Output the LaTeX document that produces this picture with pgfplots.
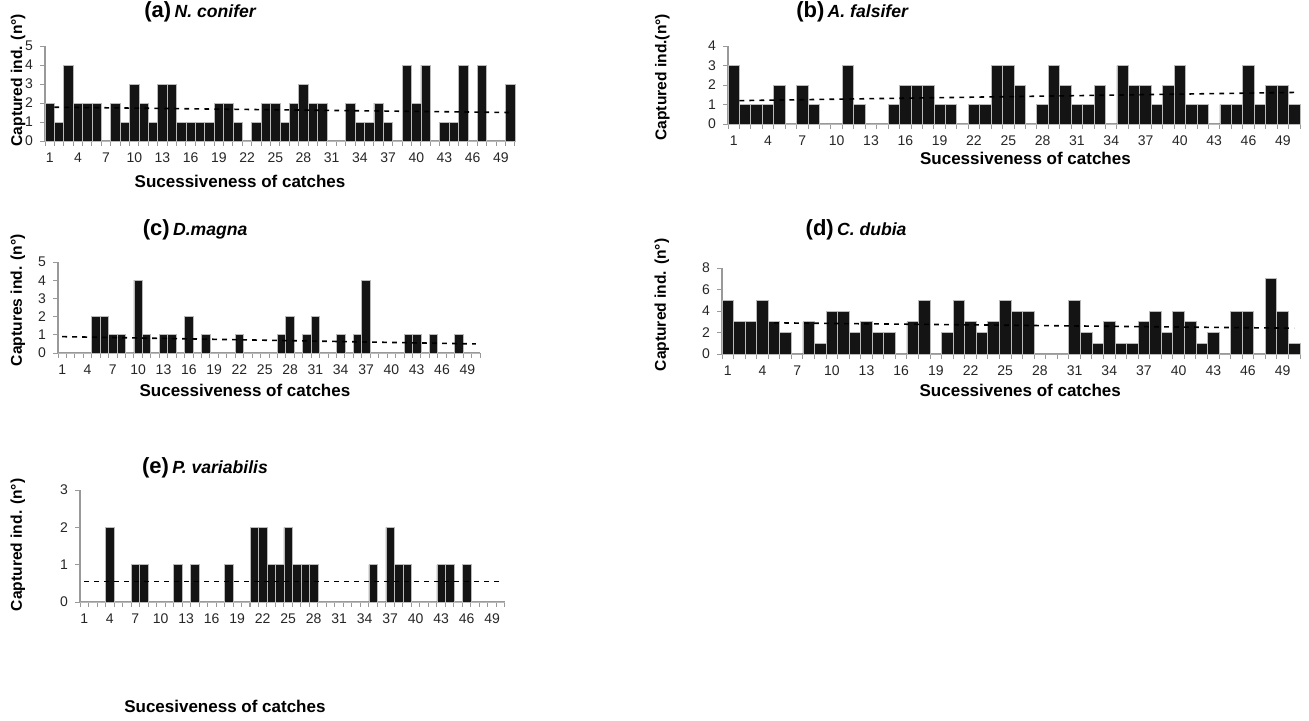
\documentclass[border=0pt]{standalone}
\usepackage{fontspec}
\setmainfont{Liberation Sans}
\usepackage{pgfplots}
\usepackage{pgfplotstable}
\pgfplotsset{compat=1.18}
\definecolor{barfill}{HTML}{141414}

\pgfplotstableread{
x y
1 2
2 1
3 4
4 2
5 2
6 2
7 0
8 2
9 1
10 3
11 2
12 1
13 3
14 3
15 1
16 1
17 1
18 1
19 2
20 2
21 1
22 0
23 1
24 2
25 2
26 1
27 2
28 3
29 2
30 2
31 0
32 0
33 2
34 1
35 1
36 2
37 1
38 0
39 4
40 2
41 4
42 0
43 1
44 1
45 4
46 0
47 4
48 0
49 0
50 3
}\tabA

\pgfplotstableread{
x y
1 3
2 1
3 1
4 1
5 2
6 0
7 2
8 1
9 0
10 0
11 3
12 1
13 0
14 0
15 1
16 2
17 2
18 2
19 1
20 1
21 0
22 1
23 1
24 3
25 3
26 2
27 0
28 1
29 3
30 2
31 1
32 1
33 2
34 0
35 3
36 2
37 2
38 1
39 2
40 3
41 1
42 1
43 0
44 1
45 1
46 3
47 1
48 2
49 2
50 1
}\tabB

\pgfplotstableread{
x y
1 0
2 0
3 0
4 0
5 2
6 2
7 1
8 1
9 0
10 4
11 1
12 0
13 1
14 1
15 0
16 2
17 0
18 1
19 0
20 0
21 0
22 1
23 0
24 0
25 0
26 0
27 1
28 2
29 0
30 1
31 2
32 0
33 0
34 1
35 0
36 1
37 4
38 0
39 0
40 0
41 0
42 1
43 1
44 0
45 1
46 0
47 0
48 1
49 0
50 0
}\tabC

\pgfplotstableread{
x y
1 5
2 3
3 3
4 5
5 3
6 2
7 0
8 3
9 1
10 4
11 4
12 2
13 3
14 2
15 2
16 0
17 3
18 5
19 0
20 2
21 5
22 3
23 2
24 3
25 5
26 4
27 4
28 0
29 0
30 0
31 5
32 2
33 1
34 3
35 1
36 1
37 3
38 4
39 2
40 4
41 3
42 1
43 2
44 0
45 4
46 4
47 0
48 7
49 4
50 1
}\tabD

\pgfplotstableread{
x y
1 0
2 0
3 0
4 2
5 0
6 0
7 1
8 1
9 0
10 0
11 0
12 1
13 0
14 1
15 0
16 0
17 0
18 1
19 0
20 0
21 2
22 2
23 1
24 1
25 2
26 1
27 1
28 1
29 0
30 0
31 0
32 0
33 0
34 0
35 1
36 0
37 2
38 1
39 1
40 0
41 0
42 0
43 1
44 1
45 0
46 1
47 0
48 0
49 0
50 0
}\tabE

\pgfplotsset{
  panel/.style={
    scale only axis, anchor=north west,
    xmin=0.5, xmax=50.5, ymin=0,
    axis x line*=bottom, axis y line*=left,
    axis line style={gray!80, line width=0.6pt},
    xtick={1,4,...,49},
    minor xtick={0.5,1.5,...,50.5},
    major x tick style={draw=none},
    minor x tick style={gray!80, line width=0.5pt},
    minor tick length=2.5pt,
    major tick length=2.5pt,
    y tick style={gray!80, line width=0.5pt},
    tick align=outside, tick pos=left,
    /pgf/number format/assume math mode=true,
    tick label style={font=\fontsize{7}{8}\selectfont, text=black!85},
    every axis title shift=0pt,
    title style={anchor=center, inner sep=0pt, yshift=0pt},
    xlabel style={font=\fontsize{8.5}{10}\selectfont\bfseries, anchor=center, inner sep=0pt},
    ylabel style={font=\fontsize{7.8}{9}\selectfont\bfseries, anchor=center, inner sep=0pt},
    clip=false,
  },
  bars/.style={ybar, bar width=1, fill=barfill, draw=gray!55, line width=0.4pt},
  trend/.style={sharp plot, black, line width=0.8pt, dash pattern=on 2.4pt off 2.6pt, mark=none},
}
\newcommand{\ttl}[2]{{\fontsize{11}{12}\selectfont\bfseries(#1)}\,{\fontsize{8.8}{10}\selectfont\bfseries\itshape #2}}

\begin{document}
\begin{tikzpicture}
\useasboundingbox (0,0) rectangle (654.5pt,-360pt);

% (a)
\begin{axis}[panel, at={(22.5pt,-23pt)}, width=235pt, height=47.5pt,
  ymax=5, ytick={0,1,...,5},
  title={\ttl{a}{N. conifer}},
  title style={at={(axis description cs:0.33,1.358)}},
  xlabel={Sucessiveness of catches},
  xlabel style={at={(axis description cs:0.415,-0.43)}},
  ylabel={Captured ind. (n°)},
  ylabel style={at={(axis description cs:-0.057,0.64)}}]
\addplot[bars] table[x=x,y=y]{\tabA};
\addplot[trend] coordinates {(1.5,1.78) (50,1.5)};
\end{axis}

% (b)
\begin{axis}[panel, at={(364pt,-23pt)}, width=286pt, height=39pt,
  ymax=4, ytick={0,1,...,4},
  title={\ttl{b}{A. falsifer}},
  title style={at={(axis description cs:0.217,1.44)}},
  xlabel={Sucessiveness of catches},
  xlabel style={at={(axis description cs:0.52,-0.436)}},
  ylabel={Captured ind.(n°)},
  ylabel style={at={(axis description cs:-0.115,0.6)}}]
\addplot[bars] table[x=x,y=y]{\tabB};
\addplot[trend] coordinates {(1.5,1.2) (50,1.62)};
\end{axis}

% (c)
\begin{axis}[panel, at={(29pt,-131pt)}, width=211pt, height=45.5pt,
  ymax=5, ytick={0,1,...,5},
  title={\ttl{c}{D.magna}},
  title style={at={(axis description cs:0.325,1.352)}},
  xlabel={Sucessiveness of catches},
  xlabel style={at={(axis description cs:0.443,-0.407)}},
  ylabel={Captures ind. (n°)},
  ylabel style={at={(axis description cs:-0.095,0.58)}}]
\addplot[bars] table[x=x,y=y]{\tabC};
\addplot[trend] coordinates {(1,0.9) (50,0.5)};
\end{axis}

% (d)
\begin{axis}[panel, at={(361pt,-134pt)}, width=289pt, height=43pt,
  ymax=8, ytick={0,2,...,8},
  title={\ttl{d}{C. dubia}},
  title style={at={(axis description cs:0.232,1.44)}},
  xlabel={Sucessivenes of catches},
  xlabel style={at={(axis description cs:0.516,-0.42)}},
  ylabel={Captured ind. (n°)},
  ylabel style={at={(axis description cs:-0.104,0.57)}}]
\addplot[bars] table[x=x,y=y]{\tabD};
\addplot[trend] coordinates {(5,2.9) (50,2.4)};
\end{axis}

% (e)
\begin{axis}[panel, at={(40pt,-245pt)}, width=212.5pt, height=56pt,
  ymax=3, ytick={0,1,2,3},
  title={\ttl{e}{P. variabilis}},
  title style={at={(axis description cs:0.294,1.196)}},
  xlabel={Sucesiveness of catches},
  xlabel style={at={(axis description cs:0.341,-0.93)}},
  ylabel={Captured ind. (n°)},
  ylabel style={at={(axis description cs:-0.146,0.51)}}]
\addplot[bars] table[x=x,y=y]{\tabE};
\addplot[trend] coordinates {(1,0.55) (50,0.55)};
\end{axis}
\end{tikzpicture}
\end{document}
